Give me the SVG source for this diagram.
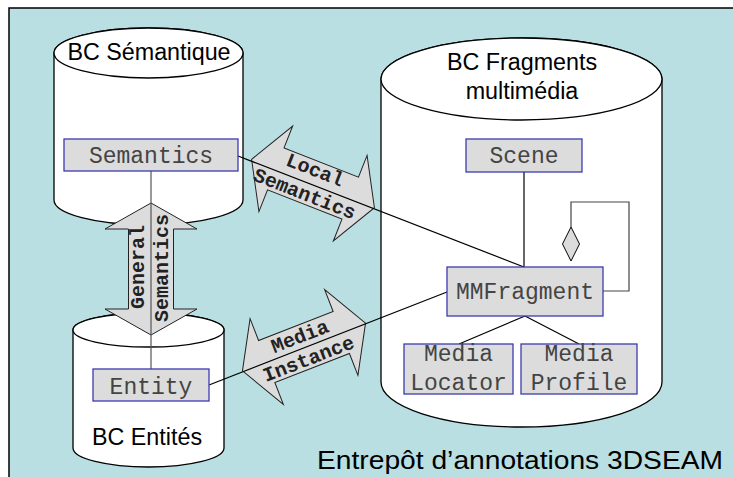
<svg xmlns="http://www.w3.org/2000/svg" width="733" height="477" viewBox="0 0 733 477">
<defs>
<style>
.cyl{fill:#fff;stroke:#000;stroke-width:1.3}
.box{fill:#dcdcdc;stroke:#3b3bb0;stroke-width:1.3}
.bt{font-family:"Liberation Mono","Courier New",monospace;font-size:23px;fill:#444;text-anchor:middle}
.lbl{font-family:"Liberation Sans",Arial,sans-serif;font-size:23.3px;fill:#000;text-anchor:middle}
.arr{fill:#dcdcdc;stroke:#222;stroke-width:1}
.at{font-family:"Liberation Mono","Courier New",monospace;font-size:20px;font-weight:bold;fill:#222;text-anchor:middle}
.ln{stroke:#000;stroke-width:1.2;fill:none}
</style>
<path id="dbl" d="M-66,0 L-40,-46 L-40,-22.5 L40,-22.5 L40,-46 L66,0 L40,46 L40,22.5 L-40,22.5 L-40,46 Z"/>
</defs>
<rect x="0" y="0" width="733" height="477" fill="#fff"/>
<rect x="9" y="8" width="730" height="475" fill="#b9dfe3" stroke="#000" stroke-width="1.5"/>

<g id="bc-semantique">
<path class="cyl" d="M54,53 A94.5,25 0 0,1 243,53 V200 A94.5,25 0 0,1 54,200 Z"/>
<ellipse class="cyl" cx="148.5" cy="53" rx="94.5" ry="25"/>
<text class="lbl" x="149" y="59.5">BC Sémantique</text>
</g>

<g id="bc-fragments">
<path class="cyl" d="M381,79 A140.5,41 0 0,1 662,79 V382 A140.5,45 0 0,1 381,382 Z"/>
<ellipse class="cyl" cx="521.5" cy="79" rx="140.5" ry="41"/>
<text class="lbl" x="522" y="69.5">BC Fragments</text>
<text class="lbl" x="522" y="98.5">multimédia</text>
</g>

<g id="bc-entites">
<path class="cyl" d="M73,330 A75.5,17 0 0,1 224,330 V448 A75.5,19 0 0,1 73,448 Z"/>
<ellipse class="cyl" cx="148.5" cy="330" rx="75.5" ry="17"/>
<text class="lbl" x="147" y="445">BC Entités</text>
</g>

<g id="arrows">
<g id="general-semantics" transform="translate(151,269) rotate(90)">
<use href="#dbl" class="arr"/>
<g transform="rotate(180)">
<text class="at" x="2" y="-7">General</text>
<text class="at" x="1" y="17">Semantics</text>
</g>
</g>
<g id="local-semantics" transform="translate(313,183.5) rotate(21.5)">
<use href="#dbl" class="arr"/>
<text class="at" x="-3" y="-7">Local</text>
<text class="at" x="-4" y="19">Semantics</text>
</g>
<g id="media-instance" transform="translate(304,347) rotate(-21.2)">
<use href="#dbl" class="arr"/>
<text class="at" x="0" y="-5">Media</text>
<text class="at" x="0" y="19">Instance</text>
</g>
</g>

<g id="connectors">
<line x1="151" y1="171" x2="151" y2="369" stroke="#555" stroke-width="1.2"/>
<line class="ln" x1="238" y1="156" x2="524" y2="267"/>
<line class="ln" x1="209" y1="385" x2="447" y2="292"/>
<line class="ln" x1="524" y1="172" x2="524" y2="267"/>
<line class="ln" x1="525" y1="316" x2="459" y2="344"/>
<line class="ln" x1="525" y1="316" x2="579" y2="344"/>
<path d="M603,291 H629 V202 H571 V227" fill="none" stroke="#444" stroke-width="1.2"/>
<path d="M571,227 L579.5,244 L571,261 L562.5,244 Z" fill="#dcdcdc" stroke="#000" stroke-width="1"/>
</g>

<g id="semantics">
<rect class="box" x="64" y="139" width="174" height="32"/>
<text class="bt" x="151" y="163">Semantics</text>
</g>
<g id="scene">
<rect class="box" x="466" y="139" width="116" height="33"/>
<text class="bt" x="524" y="163">Scene</text>
</g>
<g id="mmfragment">
<rect class="box" x="447" y="267" width="156" height="49"/>
<text class="bt" x="525" y="299">MMFragment</text>
</g>
<g id="media-locator">
<rect class="box" x="404" y="344" width="109" height="50"/>
<text class="bt" x="458.5" y="361">Media</text>
<text class="bt" x="458.5" y="390">Locator</text>
</g>
<g id="media-profile">
<rect class="box" x="521" y="344" width="116" height="50"/>
<text class="bt" x="579" y="361">Media</text>
<text class="bt" x="579" y="390">Profile</text>
</g>
<g id="entity">
<rect class="box" x="93" y="369" width="116" height="32"/>
<text class="bt" x="151" y="394">Entity</text>
</g>

<text x="317" y="469" font-family="'Liberation Sans',Arial,sans-serif" font-size="25" textLength="406" lengthAdjust="spacingAndGlyphs" fill="#000">Entrepôt d’annotations 3DSEAM</text>
</svg>
